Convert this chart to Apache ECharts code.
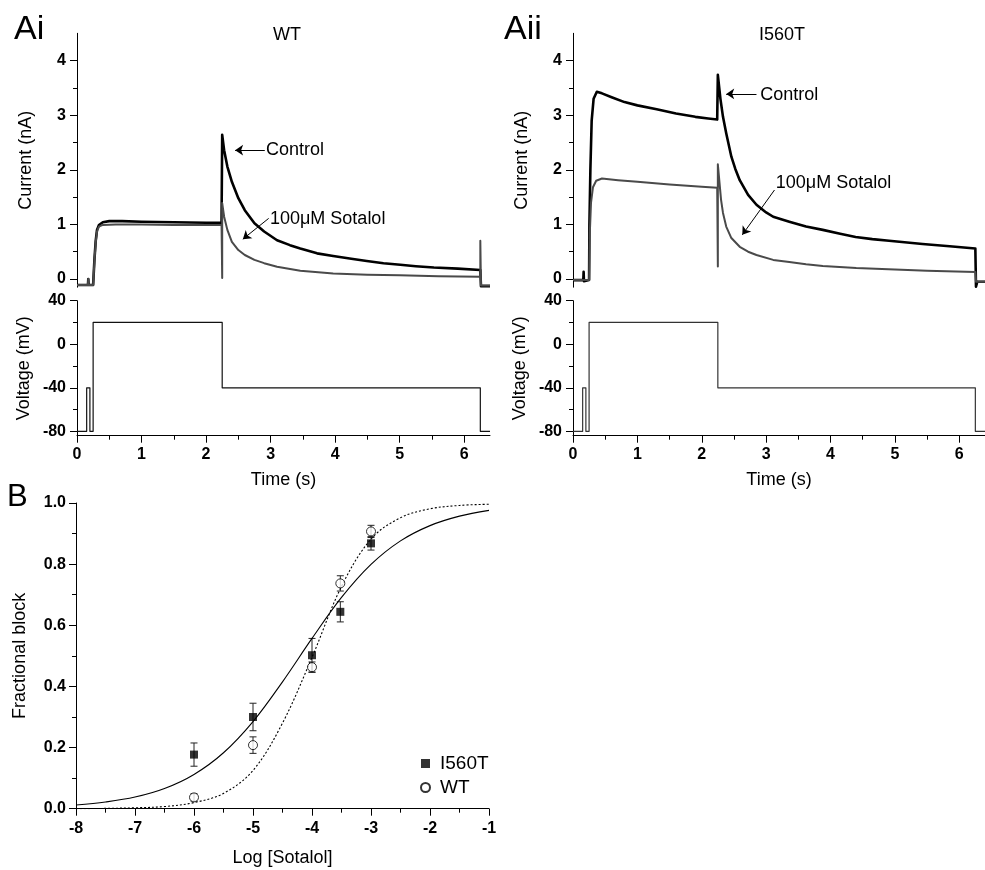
<!DOCTYPE html>
<html>
<head>
<meta charset="utf-8">
<title>Sotalol block of WT and I560T currents</title>
<script src="https://cdn.jsdelivr.net/npm/echarts@6/dist/echarts.min.js"></script>
<style>
  html, body { margin: 0; padding: 0; background: #fff; }
  #chart { width: 985px; height: 870px; }
</style>
</head>
<body>
<div id="chart"></div>
<script>
// ---- Recorded current traces, [time (s), current (nA)] ----
const wtControl = [[0,-0.11],[0.17,-0.11],[0.175,0.0],[0.18,-0.11],[0.25,-0.11],[0.27,0.35],[0.29,0.7],[0.31,0.9],[0.34,0.99],[0.4,1.04],[0.5,1.06],[0.7,1.06],[1.0,1.05],[1.5,1.04],[2.0,1.03],[2.24,1.03],
  [2.25,2.64],[2.28,2.36],[2.33,2.06],[2.4,1.78],[2.5,1.48],[2.6,1.26],[2.75,1.02],[2.9,0.87],[3.1,0.71],[3.3,0.62],[3.46,0.56],[3.72,0.47],[3.97,0.42],[4.25,0.37],[4.49,0.33],[4.75,0.29],[5.01,0.26],[5.25,0.235],[5.53,0.21],[5.9,0.19],[6.25,0.165],[6.26,-0.13],[6.4,-0.13]];
const wtSotalol = [[0,-0.11],[0.17,-0.11],[0.175,0.0],[0.18,-0.11],[0.25,-0.11],[0.27,0.33],[0.29,0.67],[0.31,0.87],[0.34,0.96],[0.4,0.99],[0.6,1.0],[1.0,1.0],[1.5,0.99],[2.0,0.99],[2.24,0.99],
  [2.25,0.02],[2.25,1.39],[2.28,1.14],[2.33,0.9],[2.4,0.68],[2.5,0.53],[2.6,0.44],[2.75,0.35],[2.9,0.29],[3.1,0.225],[3.46,0.15],[3.97,0.10],[4.5,0.08],[5.0,0.07],[5.6,0.05],[6.25,0.04],[6.25,0.70],[6.26,-0.12],[6.4,-0.12]];
const i560tControl = [[0,-0.02],[0.16,-0.02],[0.165,0.13],[0.17,-0.04],[0.25,-0.02],[0.255,1.0],[0.27,2.0],[0.29,2.9],[0.32,3.3],[0.37,3.43],[0.45,3.40],[0.6,3.33],[0.8,3.24],[1.0,3.18],[1.3,3.11],[1.6,3.03],[1.9,2.97],[2.1,2.94],[2.24,2.92],
  [2.25,3.74],[2.29,3.3],[2.33,2.97],[2.38,2.67],[2.46,2.24],[2.52,2.02],[2.59,1.81],[2.72,1.54],[2.85,1.36],[3.0,1.22],[3.11,1.14],[3.36,1.05],[3.62,0.96],[3.88,0.9],[4.15,0.83],[4.39,0.77],[4.65,0.73],[4.91,0.70],[5.43,0.64],[5.85,0.6],[6.25,0.56],[6.26,-0.14],[6.28,-0.05],[6.4,-0.05]];
const i560tSotalol = [[0,-0.02],[0.25,-0.02],[0.26,0.8],[0.28,1.4],[0.31,1.68],[0.36,1.8],[0.45,1.84],[0.7,1.81],[1.0,1.78],[1.5,1.73],[2.0,1.69],[2.24,1.67],
  [2.25,0.23],[2.25,2.1],[2.3,1.45],[2.33,1.21],[2.38,0.96],[2.46,0.75],[2.59,0.59],[2.72,0.50],[2.85,0.44],[3.11,0.35],[3.36,0.31],[3.62,0.27],[3.88,0.24],[4.4,0.2],[4.9,0.18],[5.5,0.15],[6.25,0.13],[6.26,-0.05],[6.4,-0.05]];

// ---- Voltage protocol, [time (s), voltage (mV)] ----
const protocol = [[0,-80],[0.15,-80],[0.15,-40],[0.2,-40],[0.2,-80],[0.25,-80],[0.25,20],[2.25,20],[2.25,-40],[6.25,-40],[6.25,-80],[6.4,-80]];

// ---- Concentration–response ----
const logConc = [-6, -5, -4, -3.52, -3];
const i560tBlock = [0.177, 0.300, 0.502, 0.644, 0.868];
const i560tSem = [0.038, 0.045, 0.055, 0.033, 0.022];
const wtBlock = [0.037, 0.208, 0.463, 0.737, 0.907];
const wtSem = [0.012, 0.027, 0.017, 0.025, 0.020];

// Fitted curves, sampled every 0.5 log units
const fitLogConc = [-8,-7.5,-7,-6.5,-6,-5.5,-5,-4.5,-4,-3.5,-3,-2.5,-2,-1.5,-1];
const i560tFit = [0.012,0.022,0.038,0.066,0.112,0.183,0.285,0.415,0.557,0.691,0.799,0.876,0.926,0.957,0.976];
const wtFit = [0.000,0.001,0.003,0.007,0.020,0.050,0.125,0.280,0.495,0.727,0.882,0.952,0.981,0.992,0.996];

// ---- Tick labels ----
const timeTicks = [0,1,2,3,4,5,6];
const timeMinorTicks = [0.5,1.5,2.5,3.5,4.5,5.5];
const currentTicks = [0,1,2,3,4];
const currentMinorTicks = [0.5,1.5,2.5,3.5];
const voltageTicks = [-80,-40,0,40];
const voltageMinorTicks = [-60,-20,20];

const FONT = '"Liberation Sans", Arial, Helvetica, sans-serif';
const AXIS_COLOR = '#000';
const tickLabel = { fontFamily: FONT, fontSize: 16, fontWeight: 'bold', color: '#000' };
const nameText = { fontFamily: FONT, fontSize: 18, color: '#000' };

function mainAxis(gridIndex, min, max, ticks, extra) {
  return Object.assign({
    type: 'value', gridIndex, min, max,
    axisLine: { show: true, onZero: false, lineStyle: { color: AXIS_COLOR, width: 1 } },
    axisTick: { show: true, inside: false, length: 7, customValues: ticks, lineStyle: { color: AXIS_COLOR } },
    axisLabel: Object.assign({ show: true, margin: 11, customValues: ticks }, tickLabel),
    splitLine: { show: false },
    nameTextStyle: nameText
  }, extra || {});
}
function minorAxis(gridIndex, min, max, ticks, position) {
  return {
    type: 'value', gridIndex, min, max, position,
    axisLine: { show: false, onZero: false },
    axisTick: { show: true, inside: false, length: 4, customValues: ticks, lineStyle: { color: AXIS_COLOR } },
    axisLabel: { show: false },
    splitLine: { show: false }
  };
}
function hiddenAxis(gridIndex, min, max) {
  return { type: 'value', gridIndex, min, max, show: false, axisLine: { onZero: false }, splitLine: { show: false } };
}

const T_MAX = 6.4, I_MIN = -0.15, I_MAX = 4.5, V_MIN = -84, V_MAX = 40;

const xAxis = [
  hiddenAxis(0, 0, T_MAX),                                                      // 0 Ai current
  mainAxis(1, 0, T_MAX, timeTicks, { position: 'bottom', name: 'Time (s)', nameLocation: 'middle', nameGap: 35 }), // 1 Ai voltage
  minorAxis(1, 0, T_MAX, timeMinorTicks, 'bottom'),                            // 2
  hiddenAxis(2, 0, T_MAX),                                                      // 3 Aii current
  mainAxis(3, 0, T_MAX, timeTicks, { position: 'bottom', name: 'Time (s)', nameLocation: 'middle', nameGap: 35 }), // 4 Aii voltage
  minorAxis(3, 0, T_MAX, timeMinorTicks, 'bottom'),                            // 5
  { // 6 B
    type: 'value', gridIndex: 4, min: -8, max: -1, interval: 1,
    axisLine: { show: true, onZero: false, lineStyle: { color: AXIS_COLOR } },
    axisTick: { show: true, length: 7, lineStyle: { color: AXIS_COLOR } },
    minorTick: { show: true, splitNumber: 2, length: 4, lineStyle: { color: AXIS_COLOR } },
    axisLabel: Object.assign({ margin: 12 }, tickLabel),
    splitLine: { show: false }, minorSplitLine: { show: false },
    name: 'Log [Sotalol]', nameLocation: 'middle', nameGap: 40, nameTextStyle: nameText
  }
];

const yAxis = [
  mainAxis(0, I_MIN, I_MAX, currentTicks, { position: 'left', name: 'Current (nA)', nameLocation: 'middle', nameGap: 42 }), // 0
  minorAxis(0, I_MIN, I_MAX, currentMinorTicks, 'left'),                       // 1
  mainAxis(1, V_MIN, V_MAX, voltageTicks, { position: 'left', name: 'Voltage (mV)', nameLocation: 'middle', nameGap: 44 }), // 2
  minorAxis(1, V_MIN, V_MAX, voltageMinorTicks, 'left'),                       // 3
  mainAxis(2, I_MIN, I_MAX, currentTicks, { position: 'left', name: 'Current (nA)', nameLocation: 'middle', nameGap: 42 }), // 4
  minorAxis(2, I_MIN, I_MAX, currentMinorTicks, 'left'),                       // 5
  mainAxis(3, V_MIN, V_MAX, voltageTicks, { position: 'left', name: 'Voltage (mV)', nameLocation: 'middle', nameGap: 44 }), // 6
  minorAxis(3, V_MIN, V_MAX, voltageMinorTicks, 'left'),                       // 7
  { // 8 B
    type: 'value', gridIndex: 4, min: 0, max: 1, interval: 0.2,
    axisLine: { show: true, onZero: false, lineStyle: { color: AXIS_COLOR } },
    axisTick: { show: true, length: 7, lineStyle: { color: AXIS_COLOR } },
    minorTick: { show: true, splitNumber: 2, length: 4, lineStyle: { color: AXIS_COLOR } },
    axisLabel: Object.assign({ margin: 10, formatter: v => v.toFixed(1) }, tickLabel),
    splitLine: { show: false }, minorSplitLine: { show: false },
    name: 'Fractional block', nameLocation: 'middle', nameGap: 47, nameTextStyle: nameText
  }
];

const arrowLine = {
  silent: true, symbol: ['none', 'arrow'], symbolSize: 8,
  label: { show: false },
  lineStyle: { color: '#000', width: 1, type: 'solid' },
  emphasis: { disabled: true }
};
const annotationText = {
  silent: true, symbol: 'circle', symbolSize: 0,
  label: { show: true, position: 'right', distance: 0, formatter: '{b}', fontFamily: FONT, fontSize: 18, color: '#000' },
  emphasis: { disabled: true }
};

function trace(name, data, xi, yi, color, width, marks) {
  return Object.assign({
    name, type: 'line', data, xAxisIndex: xi, yAxisIndex: yi,
    showSymbol: false, symbol: 'none', silent: true, animation: false,
    lineStyle: { color, width, join: 'round' }
  }, marks || {});
}

const series = [
  trace('WT control', wtControl, 0, 0, '#000', 2.6),
  trace('WT sotalol', wtSotalol, 0, 0, '#4a4a4a', 2, {
    markLine: Object.assign({ data: [
      [{ coord: [2.91, 2.36] }, { coord: [2.45, 2.36] }],
      [{ coord: [2.97, 1.11] }, { coord: [2.57, 0.73] }]
    ] }, arrowLine),
    markPoint: Object.assign({ data: [
      { name: 'Control', coord: [2.93, 2.36] },
      { name: '100\u03bcM Sotalol', coord: [2.99, 1.10] }
    ] }, annotationText)
  }),
  trace('I560T control', i560tControl, 3, 4, '#000', 2.6),
  trace('I560T sotalol', i560tSotalol, 3, 4, '#4a4a4a', 2, {
    markLine: Object.assign({ data: [
      [{ coord: [2.85, 3.39] }, { coord: [2.38, 3.39] }],
      [{ coord: [3.13, 1.63] }, { coord: [2.63, 0.81] }]
    ] }, arrowLine),
    markPoint: Object.assign({ data: [
      { name: 'Control', coord: [2.91, 3.37] },
      { name: '100\u03bcM Sotalol', coord: [3.15, 1.76] }
    ] }, annotationText)
  }),
  trace('WT protocol', protocol, 1, 2, '#111', 1.2),
  trace('I560T protocol', protocol, 4, 6, '#333', 1.2),
  {
    name: 'I560T fit', type: 'line', xAxisIndex: 6, yAxisIndex: 8, smooth: 0.35,
    data: fitLogConc.map((x, i) => [x, i560tFit[i]]),
    showSymbol: false, symbol: 'none', silent: true, animation: false,
    lineStyle: { color: '#000', width: 1.1 }
  },
  {
    name: 'WT fit', type: 'line', xAxisIndex: 6, yAxisIndex: 8, smooth: 0.35,
    data: fitLogConc.map((x, i) => [x, wtFit[i]]),
    showSymbol: false, symbol: 'none', silent: true, animation: false,
    lineStyle: { color: '#000', width: 1.1, type: [2, 2] }
  }
];

function errorBars(name, ys, errs) {
  return {
    name: name + ' sem', type: 'custom', xAxisIndex: 6, yAxisIndex: 8, silent: true, animation: false,
    data: logConc.map((x, i) => [x, ys[i], errs[i]]),
    renderItem: function (params, api) {
      const x = api.value(0), y = api.value(1), e = api.value(2);
      const top = api.coord([x, y + e]);
      const bot = api.coord([x, y - e]);
      const hw = 3.5;
      const st = { stroke: '#222', lineWidth: 1 };
      return { type: 'group', children: [
        { type: 'line', shape: { x1: top[0], y1: top[1], x2: bot[0], y2: bot[1] }, style: st },
        { type: 'line', shape: { x1: top[0] - hw, y1: top[1], x2: top[0] + hw, y2: top[1] }, style: st },
        { type: 'line', shape: { x1: bot[0] - hw, y1: bot[1], x2: bot[0] + hw, y2: bot[1] }, style: st }
      ] };
    },
    z: 3
  };
}
series.push(errorBars('I560T', i560tBlock, i560tSem));
series.push(errorBars('WT', wtBlock, wtSem));
series.push({
  name: 'I560T', type: 'scatter', xAxisIndex: 6, yAxisIndex: 8, symbol: 'rect', symbolSize: 8,
  data: logConc.map((x, i) => [x, i560tBlock[i]]),
  itemStyle: { color: '#000' }, silent: true, animation: false, z: 4
});
series.push({
  name: 'WT', type: 'scatter', xAxisIndex: 6, yAxisIndex: 8, symbol: 'circle', symbolSize: 9,
  data: logConc.map((x, i) => [x, wtBlock[i]]),
  itemStyle: { color: '#fff', borderColor: '#000', borderWidth: 1 }, silent: true, animation: false, z: 5
});

const panelText = (text, x, y, size, align) => ({
  type: 'text', x, y, silent: true,
  style: { text, fontFamily: FONT, fontSize: size, fill: '#000', align: align || 'left', verticalAlign: 'middle' }
});

const option = {
  animation: false,
  backgroundColor: '#fff',
  grid: [
    { left: 77, top: 33.3, width: 413, height: 253.9 },
    { left: 77, top: 300.7, width: 413, height: 135 },
    { left: 573, top: 33.3, width: 413, height: 253.9 },
    { left: 573, top: 300.7, width: 413, height: 135 },
    { left: 76, top: 503, width: 413, height: 305.7 }
  ],
  xAxis, yAxis, series,
  legend: {
    data: ['I560T', 'WT'], orient: 'vertical', left: 415, top: 749,
    itemWidth: 9, itemHeight: 9, itemGap: 5, selectedMode: false,
    textStyle: { fontFamily: FONT, fontSize: 19, color: '#000', padding: [0, 0, 0, 5] }
  },
  graphic: [
    panelText('Ai', 14, 30, 34),
    panelText('Aii', 504, 30, 34),
    panelText('B', 7, 497, 31),
    panelText('WT', 287, 35, 18, 'center'),
    panelText('I560T', 782, 35, 18, 'center')
  ]
};

const chart = echarts.init(document.getElementById('chart'), null, { renderer: 'canvas' });
chart.setOption(option);
</script>
</body>
</html>
